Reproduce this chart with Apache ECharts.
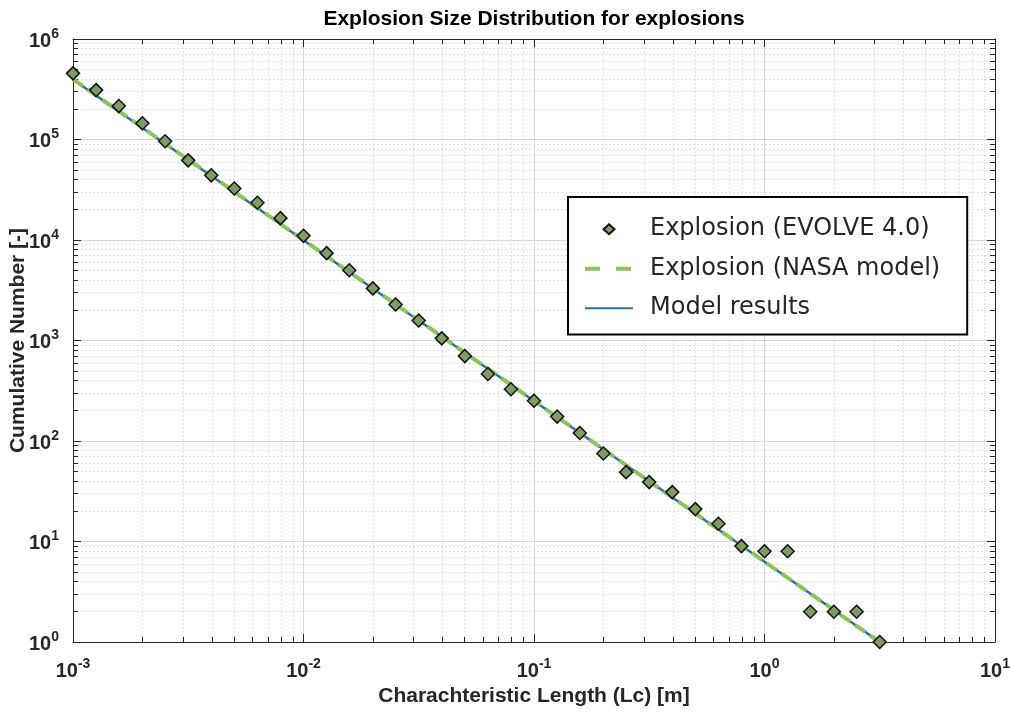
<!DOCTYPE html>
<html>
<head>
<meta charset="utf-8">
<script src="https://cdn.jsdelivr.net/npm/echarts@6/dist/echarts.min.js"></script>
<style>
  html, body { margin: 0; padding: 0; background: #ffffff; }
  #chart { width: 1010px; height: 713px; }
</style>
</head>
<body>
<div id="chart"></div>
<script>
// Characteristic length of each fragment bin [m]
const lcValues = [
  0.001, 0.00126, 0.00158, 0.002, 0.00251, 0.00316, 0.00398, 0.00501, 0.00631, 0.00794,
  0.01, 0.0126, 0.0158, 0.02, 0.0251, 0.0316, 0.0398, 0.0501, 0.0631, 0.0794,
  0.1, 0.126, 0.158, 0.2, 0.251, 0.316, 0.398, 0.501, 0.631, 0.794,
  1, 1.26, 1.58, 2, 2.51, 3.16
];
// Cumulative number of fragments, EVOLVE 4.0 explosion run
const evolveCounts = [
  455000, 310000, 215000, 145000, 96000, 62000, 44000, 32500, 23500, 16500,
  11000, 7400, 5000, 3300, 2280, 1580, 1050, 700, 464, 327,
  252, 175, 120, 75, 49, 39, 31, 21, 15, 9,
  8, 8, 2, 2, 2, 1
];
// NASA breakup model (power law, straight on log-log axes): end points
const nasaLc = [0.001, 3.16];
const nasaCounts = [398000, 1];
// Model results: end points
const modelLc = [0.001, 3.16];
const modelCounts = [396000, 1];

const FONT = 'Liberation Sans, Arial, sans-serif';
const AXIS_COLOR = '#262626';
const GREEN = '#8cc45a';
const BLUE = '#2f6fa2';

function pairs(xs, ys) { return xs.map((x, i) => [x, ys[i]]); }
function powLabel(v) {
  const e = Math.round(Math.log10(v));
  return '{b|10}{s|' + e + '}';
}
const powRich = {
  b: { fontSize: 20, fontWeight: 'bold', fontFamily: FONT, color: AXIS_COLOR, lineHeight: 24, verticalAlign: 'bottom' },
  s: { fontSize: 14, fontWeight: 'bold', fontFamily: FONT, color: AXIS_COLOR, lineHeight: 12, verticalAlign: 'top' }
};

function logAxis(opts) {
  const base = {
    type: 'log',
    logBase: 10,
    axisLine: { show: true, onZero: false, lineStyle: { color: AXIS_COLOR, width: 1 } },
    axisTick: { show: true, inside: true, length: 8, lineStyle: { color: AXIS_COLOR, width: 1 } },
    minorTick: { show: true, splitNumber: 9, length: 5, lineStyle: { color: AXIS_COLOR, width: 1 } },
    splitLine: { show: false },
    minorSplitLine: { show: false },
    axisLabel: { show: false }
  };
  return Object.assign(base, opts);
}

const gridLines = {
  splitLine: { show: true, lineStyle: { color: '#d6d6d6', width: 1, type: 'solid' } },
  minorSplitLine: { show: true, lineStyle: { color: '#e0e0e0', width: 1, type: [2, 2] } }
};

const chart = echarts.init(document.getElementById('chart'), null, { renderer: 'canvas' });

chart.setOption({
  animation: false,
  backgroundColor: '#ffffff',
  title: {
    text: 'Explosion Size Distribution for explosions',
    left: 534,
    textAlign: 'center',
    top: 9,
    padding: 0,
    textStyle: { fontFamily: FONT, fontSize: 21, fontWeight: 'bold', color: '#000000' }
  },
  grid: { left: 73, right: 15, top: 39, bottom: 71, containLabel: false, outerBoundsMode: 'none' },
  legend: {
    orient: 'vertical',
    left: 568,
    top: 197,
    data: [
      { name: 'Explosion (EVOLVE 4.0)', icon: 'path://M0,5L0,5M48,5L48,5M24,0L29.5,5L24,10L18.5,5Z' },
      { name: 'Explosion (NASA model)', itemStyle: { opacity: 0 }, lineStyle: { type: [15, 16], width: 4 } },
      { name: 'Model results', itemStyle: { opacity: 0 } }
    ],
    itemWidth: 48,
    itemHeight: 10,
    itemGap: 13,
    padding: [19, 27, 13, 15],
    borderColor: '#000000',
    borderWidth: 2,
    borderRadius: 0,
    backgroundColor: '#ffffff',
    selectedMode: false,
    textStyle: { fontFamily: 'DejaVu Sans', fontSize: 24, color: '#262626', lineHeight: 26.5, padding: [0, 0, 0, 12] }
  },
  xAxis: [
    logAxis(Object.assign({
      position: 'bottom',
      min: 0.001,
      max: 10,
      name: 'Charachteristic Length (Lc) [m]',
      nameLocation: 'middle',
      nameGap: 44,
      nameMoveOverlap: false,
      nameTextStyle: { fontFamily: FONT, fontSize: 21, fontWeight: 'bold', color: AXIS_COLOR },
      axisLabel: {
        show: true, margin: 15, showMinLabel: true, showMaxLabel: true,
        formatter: powLabel, rich: powRich
      }
    }, gridLines)),
    logAxis({ position: 'top', min: 0.001, max: 10 })
  ],
  yAxis: [
    logAxis(Object.assign({
      position: 'left',
      min: 1,
      max: 1000000,
      name: 'Cumulative Number [-]',
      nameLocation: 'middle',
      nameGap: 44,
      nameMoveOverlap: false,
      nameTextStyle: { fontFamily: FONT, fontSize: 21, fontWeight: 'bold', color: AXIS_COLOR },
      axisLabel: {
        show: true, margin: 14, showMinLabel: true, showMaxLabel: true,
        formatter: powLabel, rich: powRich
      }
    }, gridLines)),
    logAxis({ position: 'right', min: 1, max: 1000000 })
  ],
  series: [
    {
      name: 'Model results',
      type: 'line',
      xAxisIndex: 0, yAxisIndex: 0,
      data: pairs(modelLc, modelCounts),
      symbol: 'none',
      showSymbol: false,
      lineStyle: { color: BLUE, width: 2.5 },
      itemStyle: { color: BLUE },
      z: 2
    },
    {
      name: 'Explosion (NASA model)',
      type: 'line',
      xAxisIndex: 0, yAxisIndex: 0,
      data: pairs(nasaLc, nasaCounts),
      symbol: 'none',
      showSymbol: false,
      lineStyle: { color: GREEN, width: 4, type: [12, 6] },
      itemStyle: { color: GREEN },
      z: 3
    },
    {
      name: 'Explosion (EVOLVE 4.0)',
      type: 'scatter',
      xAxisIndex: 0, yAxisIndex: 0,
      data: pairs(lcValues, evolveCounts),
      symbol: 'diamond',
      symbolSize: 13,
      itemStyle: { color: '#7f9b66', borderColor: '#111111', borderWidth: 1.5, opacity: 1 },
      z: 4
    }
  ]
});
</script>
</body>
</html>
